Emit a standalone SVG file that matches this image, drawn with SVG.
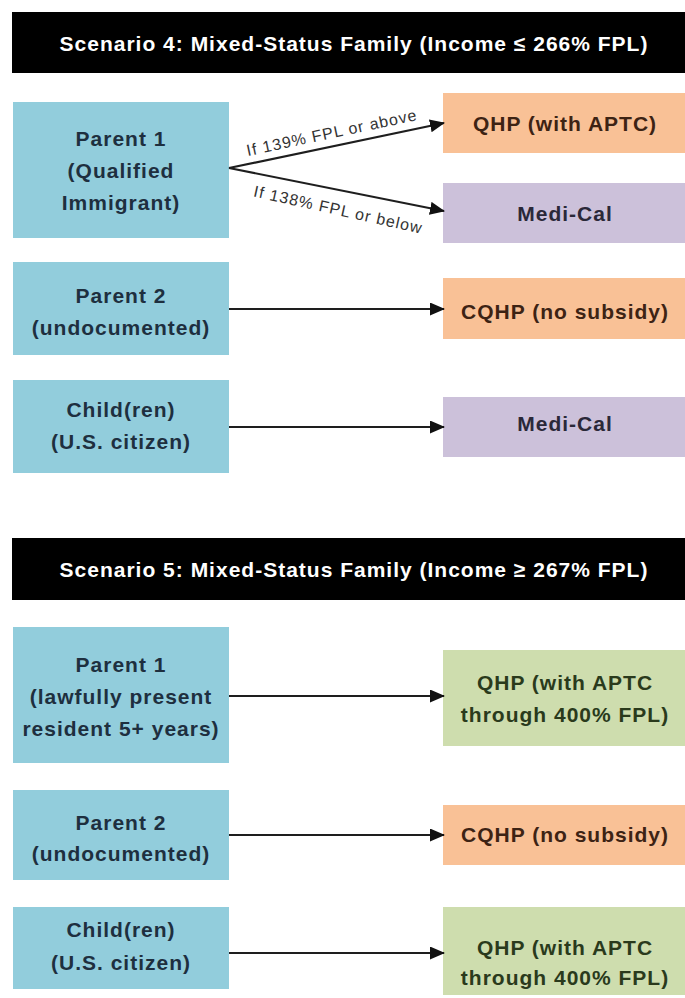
<svg xmlns="http://www.w3.org/2000/svg" width="685" height="998" viewBox="0 0 685 998">
<defs>
<style>
.hdr{fill:#000000}
.hdrt{fill:#ffffff;font-family:"Liberation Sans",Arial,sans-serif;font-weight:bold;font-size:21px;letter-spacing:1px;text-anchor:middle}
.blue{fill:#92CDDC}
.orange{fill:#F9C196}
.purple{fill:#CCC1DA}
.green{fill:#CEDDAE}
.t{font-family:"Liberation Sans",Arial,sans-serif;font-weight:bold;font-size:21px;letter-spacing:1px;text-anchor:middle}
.tb{fill:#1E2F3F}
.to{fill:#3D2314}
.tp{fill:#2A2838}
.tg{fill:#2A3A1C}
.edge{stroke:#1e1e1e;stroke-width:2.2;fill:none}
.lbl{fill:#333333;font-family:"Liberation Sans",Arial,sans-serif;font-size:16px;letter-spacing:1px;text-anchor:middle}
</style>
<marker id="ah" markerUnits="userSpaceOnUse" markerWidth="15" markerHeight="13" refX="14" refY="6.5" orient="auto">
<path d="M0,0 L15,6.5 L0,13 z" fill="#111111"/>
</marker>
</defs>
<rect width="685" height="998" fill="#ffffff"/>

<g id="header-s4">
<rect class="hdr" x="12" y="12" width="673" height="61"/>
<text class="hdrt" x="354" y="51">Scenario 4: Mixed-Status Family (Income ≤ 266% FPL)</text>
</g>

<g id="s4-parent1">
<rect class="blue" x="13" y="102" width="216" height="136"/>
<text class="t tb" x="121" y="146">Parent 1</text>
<text class="t tb" x="121" y="178">(Qualified</text>
<text class="t tb" x="121" y="210">Immigrant)</text>
</g>
<g id="s4-qhp">
<rect class="orange" x="443" y="93" width="242" height="60"/>
<text class="t to" x="565" y="131">QHP (with APTC)</text>
</g>
<g id="s4-medical1">
<rect class="purple" x="443" y="183" width="242" height="60"/>
<text class="t tp" x="565" y="221">Medi-Cal</text>
</g>
<g id="s4-parent2">
<rect class="blue" x="13" y="262" width="216" height="93"/>
<text class="t tb" x="121" y="303">Parent 2</text>
<text class="t tb" x="121" y="335">(undocumented)</text>
</g>
<g id="s4-cqhp">
<rect class="orange" x="443" y="278" width="242" height="61"/>
<text class="t to" x="565" y="319">CQHP (no subsidy)</text>
</g>
<g id="s4-child">
<rect class="blue" x="13" y="380" width="216" height="93"/>
<text class="t tb" x="121" y="417">Child(ren)</text>
<text class="t tb" x="121" y="449">(U.S. citizen)</text>
</g>
<g id="s4-medical2">
<rect class="purple" x="443" y="397" width="242" height="60"/>
<text class="t tp" x="565" y="431">Medi-Cal</text>
</g>

<g id="header-s5">
<rect class="hdr" x="12" y="538" width="673" height="62"/>
<text class="hdrt" x="354" y="577">Scenario 5: Mixed-Status Family (Income ≥ 267% FPL)</text>
</g>

<g id="s5-parent1">
<rect class="blue" x="13" y="627" width="216" height="136"/>
<text class="t tb" x="121" y="672">Parent 1</text>
<text class="t tb" x="121" y="704">(lawfully present</text>
<text class="t tb" x="121" y="736">resident 5+ years)</text>
</g>
<g id="s5-qhp1">
<rect class="green" x="443" y="650" width="242" height="96"/>
<text class="t tg" x="565" y="690">QHP (with APTC</text>
<text class="t tg" x="565" y="722">through 400% FPL)</text>
</g>
<g id="s5-parent2">
<rect class="blue" x="13" y="790" width="216" height="90"/>
<text class="t tb" x="121" y="830">Parent 2</text>
<text class="t tb" x="121" y="861">(undocumented)</text>
</g>
<g id="s5-cqhp">
<rect class="orange" x="443" y="805" width="242" height="60"/>
<text class="t to" x="565" y="842">CQHP (no subsidy)</text>
</g>
<g id="s5-child">
<rect class="blue" x="13" y="907" width="216" height="82"/>
<text class="t tb" x="121" y="937">Child(ren)</text>
<text class="t tb" x="121" y="970">(U.S. citizen)</text>
</g>
<g id="s5-qhp2">
<rect class="green" x="443" y="907" width="242" height="88"/>
<text class="t tg" x="565" y="955">QHP (with APTC</text>
<text class="t tg" x="565" y="985">through 400% FPL)</text>
</g>

<g id="connectors">
<line class="edge" x1="229" y1="168" x2="444" y2="123" marker-end="url(#ah)"/>
<line class="edge" x1="229" y1="168" x2="444" y2="211" marker-end="url(#ah)"/>
<text class="lbl" x="333" y="138" transform="rotate(-12 333 138)">If 139% FPL or above</text>
<text class="lbl" x="337" y="215" transform="rotate(12.5 337 215)">If 138% FPL or below</text>
<line class="edge" x1="229" y1="309" x2="444" y2="309" marker-end="url(#ah)"/>
<line class="edge" x1="229" y1="427" x2="444" y2="427" marker-end="url(#ah)"/>
<line class="edge" x1="229" y1="696" x2="444" y2="696" marker-end="url(#ah)"/>
<line class="edge" x1="229" y1="835" x2="444" y2="835" marker-end="url(#ah)"/>
<line class="edge" x1="229" y1="953" x2="444" y2="953" marker-end="url(#ah)"/>
</g>
</svg>
